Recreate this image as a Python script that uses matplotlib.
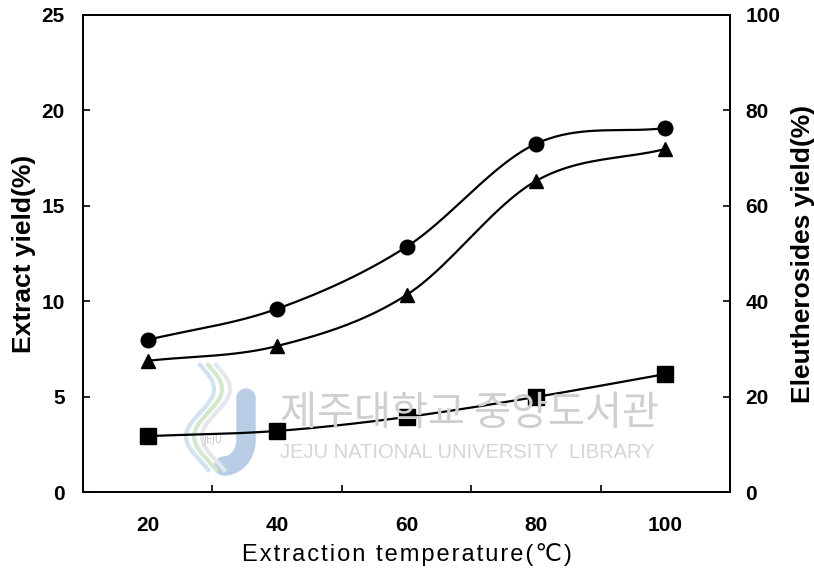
import numpy as np
import matplotlib
matplotlib.use("Agg")
import matplotlib.pyplot as plt
from matplotlib.lines import Line2D

temperature = [20, 40, 60, 80, 100]
extract_yield = [2.93, 3.20, 3.93, 4.98, 6.18]          # squares, left axis (%)
eleu_circle = [31.9, 38.4, 51.4, 73.0, 76.3]             # circles, right axis (%)
eleu_triangle = [27.5, 30.6, 41.3, 65.2, 71.9]           # triangles, right axis (%)

x_tick_labels = ["20", "40", "60", "80", "100"]
left_ticks = [0, 5, 10, 15, 20, 25]
right_ticks = [0, 20, 40, 60, 80, 100]


def smooth(xs, ys, n=40):
    xs = np.asarray(xs, float)
    ys = np.asarray(ys, float)
    px = np.concatenate([[2 * xs[0] - xs[1]], xs, [2 * xs[-1] - xs[-2]]])
    py = np.concatenate([[2 * ys[0] - ys[1]], ys, [2 * ys[-1] - ys[-2]]])
    outx, outy = [], []
    for i in range(1, len(px) - 2):
        t = np.linspace(0, 1, n)
        p0, p1, p2, p3 = (np.array([px[j], py[j]]) for j in range(i - 1, i + 3))
        c1 = p1 + (p2 - p0) / 6.0
        c2 = p2 - (p3 - p1) / 6.0
        b = ((1 - t) ** 3)[:, None] * p1 + (3 * (1 - t) ** 2 * t)[:, None] * c1 \
            + (3 * (1 - t) * t ** 2)[:, None] * c2 + (t ** 3)[:, None] * p2
        outx.extend(b[:, 0])
        outy.extend(b[:, 1])
    return np.array(outx), np.array(outy)


W, H = 814, 573
fig = plt.figure(figsize=(W / 100, H / 100), dpi=100)


def fx(px):
    return px / W


def fy(py):
    return 1 - py / H


# watermark (behind everything)
t = np.linspace(0, 1, 30)
jx = np.concatenate([np.full(15, 246.0), 246 - 22 * (1 - np.cos(np.linspace(0, np.pi / 2, 15)))])
jy = np.concatenate([np.linspace(398, 440, 15), 440 + 26 * np.sin(np.linspace(0, np.pi / 2, 15))])
fig.add_artist(Line2D(fx(jx), fy(jy), color="#b9cde6", lw=14, solid_capstyle="round", zorder=0))
for dx, col in [(0, "#cfe3f2"), (8, "#d4e8cc"), (16, "#e3e8ee")]:
    sx_ = 200 + dx + 14 * np.sin(np.linspace(0, 2.2 * np.pi, 40))
    sy_ = np.linspace(365, 470, 40)
    fig.add_artist(Line2D(fx(sx_), fy(sy_), color=col, lw=3, zorder=0))
fig.text(fx(213), fy(440), "JEJU", fontsize=7, color="#c8c8c8", ha="center", va="center", zorder=0)
fig.text(fx(470), fy(413), "제주대학교 중앙도서관", fontsize=29, color="#cfcfcf",
         family=["Noto Sans CJK KR", "DejaVu Sans"], ha="center", va="center", zorder=0)
fig.text(fx(467), fy(452), "JEJU NATIONAL UNIVERSITY  LIBRARY", fontsize=14.5, color="#d6d6d6",
         family=["Liberation Sans", "DejaVu Sans"], ha="center", va="center", zorder=0)

ax = fig.add_axes([fx(83), 1 - 492 / H, (730 - 83) / W, (492 - 15) / H])
ax.patch.set_alpha(0)
ax2 = ax.twinx()

font = ["Liberation Sans", "DejaVu Sans"]

sx, sy = smooth(temperature, extract_yield)
ax.plot(sx, sy, color="black", lw=1.6, zorder=3)
ax.plot(temperature, extract_yield, ls="none", marker="s", ms=11, color="black", zorder=4)

for vals, mk, ms in [(eleu_circle, "o", 10.5), (eleu_triangle, "^", 10.5)]:
    sx, sy = smooth(temperature, vals)
    ax2.plot(sx, sy, color="black", lw=1.6, zorder=3)
    ax2.plot(temperature, vals, ls="none", marker=mk, ms=ms, color="black", zorder=4)

ax.set_xlim(10, 110)
ax.set_ylim(0, 25)
ax2.set_ylim(0, 100)

ax.set_xticks(temperature)
ax.set_xticklabels(x_tick_labels, fontsize=15, fontweight="bold", family=font)
ax.set_xticks([30, 50, 70, 90], minor=True)
ax.tick_params(axis="x", which="major", length=0, pad=17)
ax.tick_params(axis="x", which="minor", direction="in", length=5, width=1.2)

ax.set_yticks(left_ticks)
ax.set_yticklabels([str(v) for v in left_ticks], fontsize=15, fontweight="bold", family=font)
ax.tick_params(axis="y", direction="in", length=5, width=1.2, pad=13)

ax2.set_yticks(right_ticks)
ax2.set_yticklabels([str(v) for v in right_ticks], fontsize=15, fontweight="bold", family=font)
ax2.tick_params(axis="y", direction="in", length=5, width=1.2, pad=11)

for a in (ax, ax2):
    for s in a.spines.values():
        s.set_linewidth(1.3)

ax.set_ylabel("Extract yield(%)", fontsize=19, fontweight="bold", family=font, labelpad=4)
ax2.set_ylabel("Eleutherosides yield(%)", fontsize=19, fontweight="bold", family=font, labelpad=8)
hs = "\u200a"
ax.set_xlabel(hs.join("Extraction temperature(℃)"), fontsize=17,
              family=["Liberation Sans", "DejaVu Sans"], labelpad=6)

fig.savefig("out.png", dpi=100)
